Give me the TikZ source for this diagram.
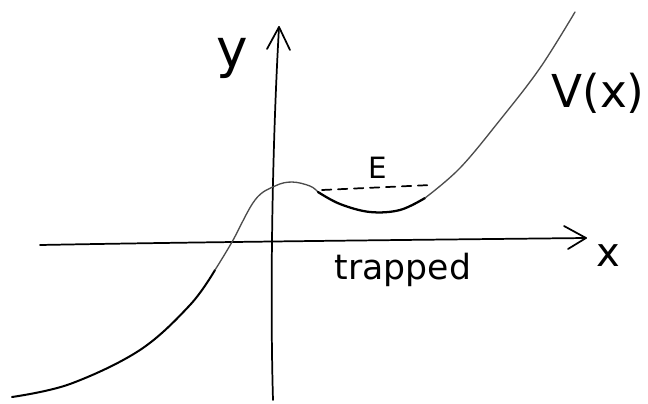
\documentclass[tikz,border=0pt]{standalone}
\usepackage{fontspec}
\setsansfont{DejaVu Sans}
\begin{document}
\begin{tikzpicture}[x=0.75pt,y=-0.75pt,
  ink/.style={black, line width=1.6pt, line cap=round, line join=round},
  thinink/.style={black!70, line width=1.0pt, line cap=round, line join=round},
  lbl/.style={inner sep=0pt, font=\sffamily}]
\useasboundingbox (0,0) rectangle (648,403);
% axes
\coordinate (xs) at (40,245);
\coordinate (xe) at (586,238);
\coordinate (ys) at (273,400);
\coordinate (ye) at (279,27);
\draw[ink, line width=1.3pt] (xs) .. controls (200,242) and (400,240) .. (xe);
\draw[ink, line width=1.3pt] (564,226) -- (xe) -- (568,249);
\draw[ink, line width=1.3pt] (ys) .. controls (270,300) and (272,150) .. (ye);
\draw[ink, line width=1.3pt] (267,49) -- (ye) -- (290,50);
% potential curve
\draw[ink, line width=1.5pt] plot[smooth, tension=0.6] coordinates {
  (12,397) (70,384) (140,350) (190,305) (215,270)};
\draw[thinink] plot[smooth, tension=0.6] coordinates {
  (215,270) (232,242) (255,200) (275,186) (292,182) (310,186) (318,192)};
\draw[ink, line width=1.7pt] plot[smooth, tension=0.6] coordinates {
  (318,192) (340,204) (370,212) (400,210) (425,198)};
\draw[thinink] plot[smooth, tension=0.6] coordinates {
  (425,198) (460,168) (500,120) (540,68) (575,12)};
% energy level
\coordinate (el) at (322,190);
\coordinate (er) at (431,185);
\draw[ink, line width=1.3pt, dash pattern=on 7pt off 5pt] (el) -- (er);
% labels
\node[lbl, font=\sffamily\fontsize{22}{26}\selectfont] (E) at (378,168) {E};
\node[lbl, font=\sffamily\fontsize{40}{44}\selectfont] (y) at (232,58) {y};
\node[lbl, font=\sffamily\fontsize{34}{40}\selectfont] (V) at (598,93) {V(x)};
\node[lbl, font=\sffamily\fontsize{30}{34}\selectfont] (x) at (608,256) {x};
\node[lbl, font=\sffamily\fontsize{26}{30}\selectfont] (tr) at (403,270) {trapped};
\end{tikzpicture}
\end{document}
